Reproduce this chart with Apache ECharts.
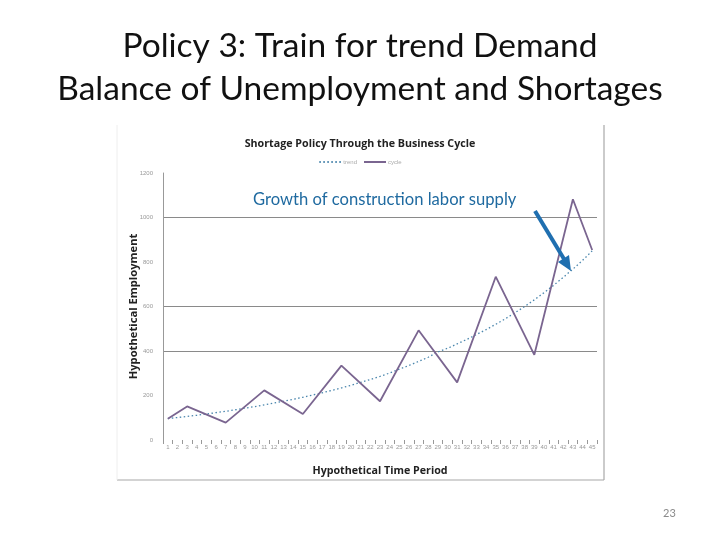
<!DOCTYPE html>
<html>
<head>
<meta charset="utf-8">
<script src="https://cdn.jsdelivr.net/npm/echarts@6/dist/echarts.min.js"></script>
<style>
  html, body { margin: 0; padding: 0; background: #fff; }
  #main { width: 720px; height: 540px; }
</style>
</head>
<body>
<div id="main"></div>
<script>
  // time periods 1..45
  var periods = [];
  for (var i = 1; i <= 45; i++) { periods.push(String(i)); }

  // trend (dotted), one value per period
  var trendData = [96, 101, 106, 111, 117, 123, 129, 136, 143, 150,
                   158, 166, 174, 183, 192, 202, 212, 223, 234, 246,
                   259, 272, 286, 301, 318, 335, 353, 372, 396, 412,
                   432, 452, 474, 496, 520, 545, 572, 600, 630, 662,
                   695, 731, 768, 807, 850];

  // cycle: only the turning points, straight lines between them
  var cycleData = [96, null, 151, null, null, null, 78, null, null, null,
                   223, null, null, null, 117, null, null, null, 334, null,
                   null, null, 174, null, null, null, 493, null, null, null,
                   259, null, null, null, 734, null, null, null, 383, null,
                   null, null, 1082, null, 854];

  var mChart = echarts.init(document.getElementById('main'));

  var option = {
    backgroundColor: '#fff',
    animation: false,
    title: [{
      text: 'Policy 3: Train for trend Demand\nBalance of Unemployment and Shortages',
      left: 'center',
      top: 20,
      textStyle: { fontFamily: 'Lato', fontWeight: 'normal', fontSize: 33.5, lineHeight: 43, color: '#111' }
    }, {
      text: 'Shortage Policy Through the Business Cycle',
      left: 'center',
      top: 133,
      textStyle: { fontFamily: 'Open Sans', fontWeight: 'bold', fontSize: 10.7, color: '#222' }
    }],
    legend: {
      top: 154,
      left: 'center',
      itemWidth: 22,
      itemHeight: 6,
      itemGap: 6,
      itemStyle: { opacity: 0 },
      textStyle: { fontSize: 6, color: '#aaa', padding: [0, 0, 0, -3] },
      data: ['trend', 'cycle']
    },
    grid: { left: 163, right: 123, top: 173, bottom: 100 },
    xAxis: {
      type: 'category',
      data: periods,
      name: 'Hypothetical Time Period',
      nameLocation: 'middle',
      nameGap: 25,
      nameTextStyle: { fontFamily: 'Open Sans', fontWeight: 'bold', fontSize: 10.7, color: '#222' },
      axisLine: { show: false },
      axisTick: { show: true, alignWithLabel: false, length: 4, lineStyle: { color: '#999' } },
      axisLabel: { interval: 0, fontSize: 6, color: '#999', margin: 4 }
    },
    yAxis: {
      type: 'value',
      min: 0,
      max: 1200,
      interval: 200,
      name: 'Hypothetical Employment',
      nameLocation: 'middle',
      nameGap: 24,
      nameMoveOverlap: false,
      nameTextStyle: { fontFamily: 'Open Sans', fontWeight: 'bold', fontSize: 11.2, color: '#222' },
      axisLine: { show: true, lineStyle: { color: '#999', width: 1 } },
      axisTick: { show: false },
      axisLabel: { fontSize: 6, color: '#999', margin: 10, formatter: function (v) { return String(v); } },
      splitLine: {
        show: true,
        lineStyle: {
          color: ['rgba(0,0,0,0)', 'rgba(0,0,0,0)', '#8a8a8a', '#8a8a8a', 'rgba(0,0,0,0)', '#8a8a8a', 'rgba(0,0,0,0)'],
          width: 1
        }
      }
    },
    series: [{
      name: 'trend',
      type: 'line',
      data: trendData,
      symbol: 'none',
      lineStyle: { color: '#4a86ad', width: 1.3, type: [1.5, 2.5] },
      itemStyle: { color: '#4a86ad' },
      z: 3
    }, {
      name: 'cycle',
      type: 'line',
      data: cycleData,
      connectNulls: true,
      symbol: 'none',
      lineStyle: { color: '#7a6590', width: 1.8 },
      itemStyle: { color: '#7a6590' },
      z: 4
    }],
    graphic: [
      // frame of the pasted chart picture
      { type: 'line', shape: { x1: 604, y1: 125, x2: 604, y2: 480 }, style: { stroke: '#a8a8a8', lineWidth: 1.2 } },
      { type: 'line', shape: { x1: 117, y1: 480, x2: 604, y2: 480 }, style: { stroke: '#a8a8a8', lineWidth: 1.2 } },
      { type: 'line', shape: { x1: 117, y1: 125, x2: 117, y2: 480 }, style: { stroke: '#eeeeee', lineWidth: 1 } },
      // annotation
      {
        type: 'text', left: 253, top: 191,
        style: { text: 'Growth of construction labor supply', fontFamily: 'Lato', fontSize: 16.6, fill: '#1f6aa0' }, z: 10
      },
      { type: 'line', shape: { x1: 535, y1: 211, x2: 564, y2: 259 }, style: { stroke: '#1f6fb0', lineWidth: 4 }, z: 10 },
      { type: 'polygon', shape: { points: [[571, 271], [558, 262], [569, 255]] }, style: { fill: '#1f6fb0' }, z: 10 },
      // slide number
      {
        type: 'text', left: 663, top: 508,
        style: { text: '23', fontFamily: 'Lato', fontSize: 11, fill: '#8a8a8a' }
      }
    ]
  };

  mChart.setOption(option);
</script>
</body>
</html>
